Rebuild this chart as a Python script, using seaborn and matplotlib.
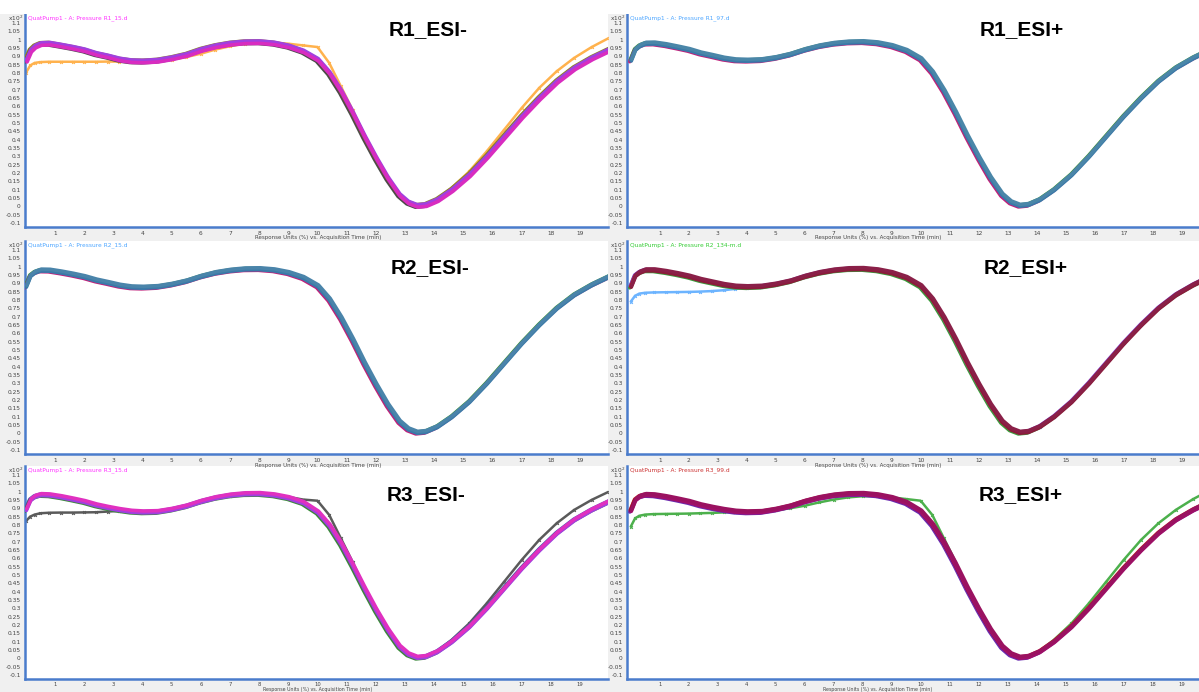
import numpy as np
import pandas as pd
import matplotlib
matplotlib.use("Agg")
import matplotlib.pyplot as plt
import matplotlib.transforms as mtransforms
from matplotlib.patches import Rectangle
import seaborn as sns

# ---------------- data ----------------
time_min = [0.0, 0.15, 0.3, 0.5, 0.8, 1.2, 1.6, 2.0, 2.4, 2.8, 3.2, 3.6, 4.0, 4.5,
            5.0, 5.5, 6.0, 6.5, 7.0, 7.5, 8.0, 8.5, 9.0, 9.5, 10.0, 10.4, 10.8,
            11.2, 11.6, 12.0, 12.4, 12.8, 13.1, 13.4, 13.7, 14.1, 14.6, 15.2,
            15.8, 16.4, 17.0, 17.6, 18.2, 18.8, 19.4, 20.0]

r1_neg_main = [0.875, 0.935, 0.960, 0.975, 0.977, 0.965, 0.952, 0.937, 0.915, 0.900,
               0.882, 0.872, 0.870, 0.875, 0.890, 0.910, 0.940, 0.962, 0.977, 0.985,
               0.986, 0.978, 0.960, 0.930, 0.880, 0.800, 0.690, 0.560, 0.420, 0.290,
               0.170, 0.070, 0.025, 0.005, 0.010, 0.040, 0.100, 0.190, 0.300, 0.420,
               0.540, 0.650, 0.750, 0.830, 0.890, 0.940]
r1_neg_outlier = [0.800, 0.845, 0.860, 0.865, 0.867, 0.867, 0.867, 0.867, 0.867, 0.868,
                  0.868, 0.869, 0.870, 0.873, 0.880, 0.895, 0.915, 0.940, 0.960, 0.975,
                  0.983, 0.982, 0.975, 0.965, 0.955, 0.860, 0.720, 0.580, 0.430, 0.295,
                  0.175, 0.075, 0.028, 0.006, 0.012, 0.045, 0.112, 0.210, 0.330, 0.460,
                  0.590, 0.710, 0.810, 0.890, 0.955, 1.010]

r1_pos_main = [0.875, 0.940, 0.962, 0.976, 0.977, 0.967, 0.953, 0.938, 0.917, 0.902,
               0.886, 0.876, 0.874, 0.877, 0.890, 0.910, 0.938, 0.960, 0.975, 0.983,
               0.985, 0.978, 0.961, 0.932, 0.882, 0.802, 0.690, 0.560, 0.420, 0.290,
               0.170, 0.070, 0.025, 0.005, 0.010, 0.040, 0.100, 0.190, 0.300, 0.420,
               0.540, 0.650, 0.750, 0.830, 0.890, 0.940]

r2_neg_main = [0.880, 0.945, 0.965, 0.977, 0.976, 0.965, 0.952, 0.937, 0.917, 0.902,
               0.886, 0.876, 0.874, 0.878, 0.892, 0.912, 0.940, 0.962, 0.976, 0.984,
               0.985, 0.978, 0.961, 0.932, 0.882, 0.802, 0.690, 0.560, 0.420, 0.290,
               0.170, 0.070, 0.025, 0.005, 0.010, 0.040, 0.100, 0.190, 0.300, 0.420,
               0.540, 0.650, 0.750, 0.830, 0.890, 0.940]

r2_pos_main = [0.880, 0.945, 0.965, 0.978, 0.978, 0.968, 0.955, 0.940, 0.920, 0.905,
               0.890, 0.880, 0.877, 0.880, 0.893, 0.912, 0.940, 0.962, 0.977, 0.985,
               0.986, 0.978, 0.961, 0.932, 0.882, 0.802, 0.690, 0.560, 0.420, 0.290,
               0.170, 0.070, 0.025, 0.005, 0.010, 0.040, 0.100, 0.190, 0.300, 0.420,
               0.540, 0.650, 0.750, 0.830, 0.890, 0.940]
r2_pos_outlier = [0.790, 0.825, 0.838, 0.843, 0.845, 0.846, 0.847, 0.848, 0.850, 0.853,
                  0.858, 0.866, 0.873, 0.878, 0.892, 0.912, 0.940, 0.962, 0.977, 0.985,
                  0.986, 0.978, 0.961, 0.932, 0.882, 0.802, 0.690, 0.560, 0.420, 0.290,
                  0.170, 0.070, 0.025, 0.005, 0.010, 0.040, 0.100, 0.190, 0.300, 0.420,
                  0.540, 0.650, 0.750, 0.830, 0.890, 0.940]

r3_neg_main = [0.890, 0.950, 0.970, 0.980, 0.978, 0.967, 0.953, 0.938, 0.918, 0.903,
               0.890, 0.880, 0.876, 0.878, 0.892, 0.912, 0.940, 0.962, 0.977, 0.985,
               0.986, 0.978, 0.961, 0.932, 0.875, 0.795, 0.685, 0.555, 0.418, 0.288,
               0.170, 0.070, 0.025, 0.005, 0.010, 0.040, 0.100, 0.190, 0.300, 0.420,
               0.540, 0.650, 0.750, 0.830, 0.890, 0.940]
r3_neg_outlier = [0.823, 0.850, 0.862, 0.870, 0.873, 0.874, 0.874, 0.875, 0.876, 0.880,
                  0.884, 0.882, 0.880, 0.882, 0.893, 0.912, 0.938, 0.960, 0.975, 0.983,
                  0.985, 0.980, 0.968, 0.952, 0.945, 0.860, 0.720, 0.580, 0.430, 0.295,
                  0.175, 0.075, 0.028, 0.006, 0.012, 0.045, 0.112, 0.210, 0.330, 0.460,
                  0.590, 0.710, 0.810, 0.890, 0.950, 1.000]

r3_pos_main = [0.885, 0.950, 0.970, 0.980, 0.978, 0.967, 0.953, 0.938, 0.918, 0.903,
               0.890, 0.880, 0.876, 0.878, 0.892, 0.912, 0.940, 0.962, 0.977, 0.985,
               0.986, 0.978, 0.961, 0.932, 0.880, 0.800, 0.690, 0.560, 0.420, 0.290,
               0.170, 0.070, 0.025, 0.005, 0.010, 0.040, 0.100, 0.190, 0.300, 0.420,
               0.540, 0.650, 0.750, 0.830, 0.890, 0.940]
r3_pos_outlier = [0.790, 0.840, 0.855, 0.862, 0.865, 0.866, 0.867, 0.868, 0.870, 0.872,
                  0.875, 0.878, 0.880, 0.882, 0.888, 0.900, 0.915, 0.935, 0.952, 0.965,
                  0.972, 0.972, 0.965, 0.955, 0.945, 0.860, 0.720, 0.580, 0.430, 0.295,
                  0.175, 0.075, 0.028, 0.006, 0.012, 0.045, 0.112, 0.210, 0.330, 0.460,
                  0.590, 0.710, 0.810, 0.890, 0.955, 1.010]

panel_names = ["R1_ESI-", "R1_ESI+", "R2_ESI-", "R2_ESI+", "R3_ESI-", "R3_ESI+"]
file_labels = ["QuatPump1 - A: Pressure R1_15.d", "QuatPump1 - A: Pressure R1_97.d",
               "QuatPump1 - A: Pressure R2_15.d", "QuatPump1 - A: Pressure R2_134-m.d",
               "QuatPump1 - A: Pressure R3_15.d", "QuatPump1 - A: Pressure R3_99.d"]
x_tick_labels = [str(v) for v in range(1, 20)]
y_tick_values = [round(-0.1 + 0.05 * i, 2) for i in range(25)]
x_title = "Response Units (%) vs. Acquisition Time (min)"

# ---------------- styles ----------------
panel_mains = [r1_neg_main, r1_pos_main, r2_neg_main, r2_pos_main, r3_neg_main, r3_pos_main]
panel_outliers = [r1_neg_outlier, None, None, r2_pos_outlier, r3_neg_outlier, r3_pos_outlier]
outlier_colors = ["#ffb24d", None, None, "#6cb4ff", "#5a5a5a", "#4cb04c"]
band_colors = [
    ["#4a4a4a", "#8a8a20", "#8b4a1a", "#7a3cc8", "#a040e0", "#d82cc0"],
    ["#c0207a", "#3a9a3a", "#7a3cc8", "#3a7aa8", "#4a86a8"],
    ["#c0207a", "#3a9a3a", "#7a3cc8", "#3a7aa8", "#4a84aa"],
    ["#3a9a3a", "#7a3cc8", "#c02020", "#8b1c3c", "#8a2048"],
    ["#3a8a3a", "#4060c0", "#8b4a1a", "#a040e0", "#e030c0"],
    ["#6a2ab0", "#c02020", "#7a1040", "#a0106a", "#9a1260"],
]
title_colors = ["#ff33ff", "#4da6ff", "#4da6ff", "#33cc33", "#ff33ff", "#cc3333"]

W, H = 1199, 692
fig = plt.figure(figsize=(W / 100, H / 100), dpi=100)
fig.patch.set_facecolor("#f0f0f0")
sns.set_style("white")

# white strip at the very top of the screenshot
fig.patches.append(Rectangle((0, 1 - 14 / H), 1, 14 / H, transform=fig.transFigure,
                             facecolor="white", edgecolor="none", zorder=0))

col_x = [(25, 608), (627, 1199)]
col_xlim = [(-0.03, 19.96), (-0.13, 19.6)]
col_center = [318, 878]
row_bottom = [227, 454, 679]
ax_h = 213
label_pos = [(428, 30), (1022, 30), (430, 268), (1026, 268), (426, 495), (1021, 495)]

for i in range(6):
    r, c = divmod(i, 2)
    x0, x1 = col_x[c]
    yb = row_bottom[r]
    ax = fig.add_axes([x0 / W, 1 - yb / H, (x1 - x0) / W, ax_h / H])
    ax.set_facecolor("white")

    df = pd.DataFrame({"t": time_min, "v": panel_mains[i]})
    if panel_outliers[i] is not None:
        dfo = pd.DataFrame({"t": time_min, "v": panel_outliers[i]})
        sns.lineplot(data=dfo, x="t", y="v", ax=ax, color=outlier_colors[i],
                     linewidth=1.8, marker="x", markersize=2.0, zorder=2)
        ol = ax.lines[-1]
        ol.set_markeredgecolor(outlier_colors[i])
        ol.set_markeredgewidth(0.8)
    cols = band_colors[i]
    n = len(cols)
    for k, colr in enumerate(cols):
        sns.lineplot(data=df, x="t", y="v", ax=ax, color=colr, linewidth=2.6, zorder=3 + k)
        off = (k - (n - 1) / 2)
        dy = off * 0.45 / 72 * (-1 if k % 2 else 1)
        dx = off * 0.35 / 72
        line = ax.lines[-1]
        line.set_transform(ax.transData + mtransforms.ScaledTranslation(dx, dy, fig.dpi_scale_trans))

    ax.set_xlim(*col_xlim[c])
    ax.set_ylim(-0.123, 1.153)
    ax.set_xticks(range(1, 20))
    ax.set_xticklabels(x_tick_labels)
    ax.set_yticks(y_tick_values)
    ax.set_yticklabels([f"{v:g}" for v in y_tick_values])
    ax.set_xlabel("")
    ax.set_ylabel("")
    for s in ["top", "right"]:
        ax.spines[s].set_visible(False)
    for s in ["left", "bottom"]:
        ax.spines[s].set_color("#4a7ccc")
        ax.spines[s].set_linewidth(1.8)
    ax.tick_params(axis="both", which="both", labelsize=4.2, colors="#555555",
                   length=2, width=0.6, pad=1, direction="out")
    ax.tick_params(axis="both", labelcolor="#444444")
    if r == 2:
        ax.tick_params(axis="x", length=1.5, pad=0.3, labelsize=3.8)

    top_px = yb - ax_h
    fig.text((x0 - 2) / W, 1 - (top_px + 4) / H, r"x10$^{2}$", ha="right", va="center",
             fontsize=4.2, color="#444444")
    fig.text((x0 + 3) / W, 1 - (top_px + 4) / H, file_labels[i], ha="left", va="center",
             fontsize=4.2, color=title_colors[i])
    if r < 2:
        fig.text(col_center[c] / W, 1 - (yb + 11) / H, x_title, ha="center", va="center",
                 fontsize=4.0, color="#444444")
    else:
        fig.text(col_center[c] / W, 0.5 / H, x_title, ha="center", va="bottom",
                 fontsize=3.4, color="#444444")
    lx, ly = label_pos[i]
    fig.text(lx / W, 1 - ly / H, panel_names[i], ha="center", va="center",
             fontsize=15, fontweight="bold", color="black", family="Liberation Sans")

fig.savefig("out.png", dpi=100, facecolor=fig.get_facecolor())
